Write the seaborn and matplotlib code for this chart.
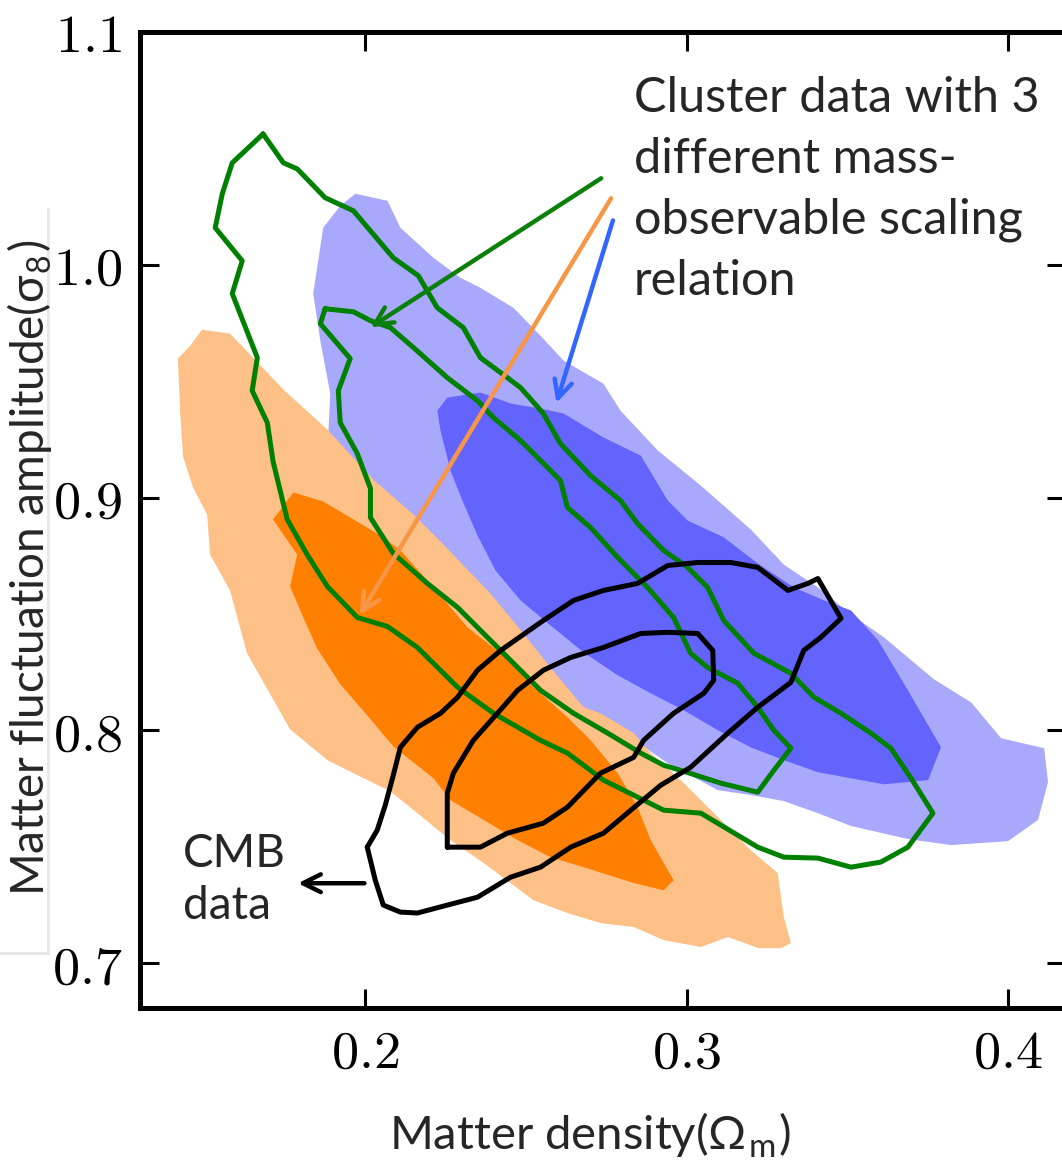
import numpy as np
import matplotlib
matplotlib.use('Agg')
import matplotlib.pyplot as plt
import seaborn as sns
from matplotlib.patches import Rectangle

# Contour outlines, in data units (Omega_m, sigma_8)
blue_outer_x = [0.1969, 0.2069, 0.2109, 0.2212, 0.2296, 0.2358, 0.2461, 0.2545, 0.2617, 0.2741, 0.2794, 0.2910,
                0.3044, 0.3199, 0.3302, 0.3408, 0.3511, 0.3614, 0.3769, 0.3885, 0.3978, 0.4112, 0.4124, 0.4093,
                0.4000, 0.3822, 0.3688, 0.3511, 0.3408, 0.3302, 0.3199, 0.3097, 0.2941, 0.2804, 0.2679, 0.2576,
                0.2421, 0.2265, 0.2109, 0.1938, 0.1885, 0.1891, 0.1860, 0.1838, 0.1869, 0.1922]
blue_outer_y = [1.0305, 1.0275, 1.0159, 1.0030, 0.9944, 0.9901, 0.9815, 0.9695, 0.9588, 0.9489, 0.9373, 0.9202,
                0.9051, 0.8863, 0.8712, 0.8614, 0.8498, 0.8399, 0.8219, 0.8120, 0.7966, 0.7923, 0.7777, 0.7615,
                0.7524, 0.7507, 0.7533, 0.7589, 0.7644, 0.7696, 0.7722, 0.7743, 0.7859, 0.7988, 0.8099, 0.8215,
                0.8387, 0.8601, 0.8859, 0.9116, 0.9275, 0.9446, 0.9674, 0.9876, 1.0159, 1.0253]

blue_inner_x = [0.2255, 0.2358, 0.2452, 0.2545, 0.2617, 0.2741, 0.2857, 0.2941, 0.3003, 0.3115, 0.3221, 0.3333,
                0.3427, 0.3511, 0.3595, 0.3688, 0.3791, 0.3751, 0.3614, 0.3511, 0.3408, 0.3302, 0.3199, 0.3097,
                0.2991, 0.2888, 0.2785, 0.2679, 0.2576, 0.2483, 0.2405, 0.2349, 0.2302, 0.2265, 0.2234, 0.2224]
blue_inner_y = [0.9429, 0.9451, 0.9404, 0.9382, 0.9361, 0.9258, 0.9180, 0.8987, 0.8901, 0.8829, 0.8717, 0.8614,
                0.8558, 0.8515, 0.8387, 0.8172, 0.7927, 0.7786, 0.7768, 0.7794, 0.7820, 0.7872, 0.7927, 0.8000,
                0.8086, 0.8159, 0.8237, 0.8335, 0.8451, 0.8558, 0.8687, 0.8837, 0.8987, 0.9116, 0.9288, 0.9373]

orange_outer_x = [0.1455, 0.1492, 0.1579, 0.1642, 0.1745, 0.1882, 0.2025, 0.2150, 0.2234, 0.2389, 0.2492, 0.2576,
                  0.2679, 0.2732, 0.2835, 0.2888, 0.2991, 0.3097, 0.3199, 0.3283, 0.3302, 0.3324, 0.3293, 0.3224,
                  0.3128, 0.3044, 0.2928, 0.2835, 0.2732, 0.2629, 0.2523, 0.2452, 0.2368, 0.2265, 0.2162, 0.2078,
                  0.1963, 0.1882, 0.1766, 0.1632, 0.1579, 0.1517, 0.1508, 0.1464, 0.1433, 0.1424, 0.1417]
orange_outer_y = [0.9652, 0.9721, 0.9704, 0.9614, 0.9464, 0.9292, 0.9077, 0.8927, 0.8811, 0.8588, 0.8416, 0.8270,
                  0.8099, 0.8073, 0.7988, 0.7902, 0.7773, 0.7627, 0.7485, 0.7387, 0.7198, 0.7086, 0.7064, 0.7064,
                  0.7112, 0.7069, 0.7099, 0.7155, 0.7172, 0.7215, 0.7270, 0.7344, 0.7430, 0.7528, 0.7644, 0.7738,
                  0.7816, 0.7872, 0.8004, 0.8331, 0.8601, 0.8755, 0.8927, 0.9043, 0.9176, 0.9365, 0.9597]

orange_inner_x = [0.1713, 0.1776, 0.1869, 0.1963, 0.2047, 0.2109, 0.2212, 0.2318, 0.2421, 0.2523, 0.2629, 0.2701,
                  0.2785, 0.2847, 0.2888, 0.2959, 0.2928, 0.2835, 0.2679, 0.2576, 0.2474, 0.2368, 0.2265, 0.2212,
                  0.2087, 0.2006, 0.1922, 0.1850, 0.1807, 0.1766, 0.1788]
orange_inner_y = [0.8906, 0.9022, 0.8983, 0.8906, 0.8837, 0.8773, 0.8614, 0.8442, 0.8331, 0.8185, 0.8056, 0.7957,
                  0.7816, 0.7670, 0.7528, 0.7356, 0.7313, 0.7344, 0.7412, 0.7455, 0.7528, 0.7615, 0.7700, 0.7794,
                  0.7931, 0.8064, 0.8198, 0.8352, 0.8485, 0.8618, 0.8755]

green_outer_x = [0.1682, 0.1745, 0.1788, 0.1875, 0.1963, 0.2087, 0.2165, 0.2224, 0.2305, 0.2358, 0.2442, 0.2483,
                 0.2554, 0.2607, 0.2701, 0.2794, 0.2847, 0.2928, 0.3003, 0.3065, 0.3115, 0.3209, 0.3324, 0.3396,
                 0.3480, 0.3573, 0.3635, 0.3698, 0.3766, 0.3688, 0.3604, 0.3511, 0.3408, 0.3302, 0.3221, 0.3044,
                 0.2928, 0.2847, 0.2741, 0.2629, 0.2545, 0.2399, 0.2287, 0.2162, 0.2069, 0.1975, 0.1882, 0.1819,
                 0.1757, 0.1713, 0.1695, 0.1648, 0.1664, 0.1586, 0.1617, 0.1533, 0.1555, 0.1586]
green_outer_y = [1.0562, 1.0438, 1.0412, 1.0288, 1.0232, 1.0030, 0.9953, 0.9815, 0.9730, 0.9601, 0.9515, 0.9472,
                 0.9361, 0.9232, 0.9094, 0.8987, 0.8888, 0.8773, 0.8700, 0.8614, 0.8472, 0.8331, 0.8245, 0.8142,
                 0.8073, 0.7988, 0.7923, 0.7794, 0.7644, 0.7498, 0.7434, 0.7412, 0.7451, 0.7455, 0.7498, 0.7644,
                 0.7657, 0.7713, 0.7786, 0.7902, 0.7957, 0.8073, 0.8185, 0.8356, 0.8446, 0.8485, 0.8618, 0.8755,
                 0.8906, 0.9155, 0.9322, 0.9459, 0.9601, 0.9876, 1.0017, 1.0159, 1.0305, 1.0438]

green_inner_x = [0.1875, 0.1963, 0.2016, 0.2078, 0.2150, 0.2255, 0.2349, 0.2399, 0.2483, 0.2567, 0.2607, 0.2629,
                 0.2701, 0.2785, 0.2878, 0.2959, 0.3012, 0.3065, 0.3159, 0.3221, 0.3271, 0.3324, 0.3271, 0.3221,
                 0.3106, 0.2981, 0.2928, 0.2857, 0.2754, 0.2648, 0.2545, 0.2474, 0.2389, 0.2287, 0.2193, 0.2087,
                 0.2016, 0.2016, 0.1975, 0.1922, 0.1916, 0.1953, 0.1860]
green_inner_y = [0.9811, 0.9798, 0.9760, 0.9730, 0.9644, 0.9515, 0.9416, 0.9343, 0.9245, 0.9129, 0.9073, 0.8957,
                 0.8871, 0.8743, 0.8614, 0.8485, 0.8331, 0.8270, 0.8202, 0.8099, 0.8000, 0.7923, 0.7828, 0.7734,
                 0.7773, 0.7828, 0.7850, 0.7902, 0.7988, 0.8073, 0.8172, 0.8270, 0.8387, 0.8528, 0.8631, 0.8760,
                 0.8914, 0.9039, 0.9189, 0.9322, 0.9459, 0.9597, 0.9747]

cmb_outer_x = [0.2006, 0.2031, 0.2056, 0.2109, 0.2162, 0.2255, 0.2349, 0.2452, 0.2545, 0.2639, 0.2741, 0.2826,
               0.2919, 0.3012, 0.3128, 0.3221, 0.3324, 0.3364, 0.3417, 0.3480, 0.3408, 0.3377, 0.3315, 0.3221,
               0.3137, 0.3034, 0.2941, 0.2847, 0.2741, 0.2648, 0.2554, 0.2421, 0.2349, 0.2287, 0.2234, 0.2162,
               0.2109, 0.2087, 0.2062, 0.2037]
cmb_outer_y = [0.7498, 0.7356, 0.7249, 0.7219, 0.7215, 0.7249, 0.7283, 0.7369, 0.7412, 0.7498, 0.7558, 0.7657,
               0.7764, 0.7841, 0.7988, 0.8099, 0.8206, 0.8343, 0.8399, 0.8481, 0.8652, 0.8631, 0.8601, 0.8700,
               0.8721, 0.8721, 0.8708, 0.8631, 0.8601, 0.8558, 0.8472, 0.8343, 0.8258, 0.8142, 0.8073, 0.8013,
               0.7927, 0.7807, 0.7678, 0.7571]

cmb_inner_x = [0.2255, 0.2358, 0.2442, 0.2554, 0.2629, 0.2732, 0.2835, 0.2866, 0.2959, 0.3053, 0.3084, 0.3081,
               0.3034, 0.2941, 0.2857, 0.2741, 0.2639, 0.2554, 0.2474, 0.2411, 0.2336, 0.2274, 0.2255, 0.2255]
cmb_inner_y = [0.7498, 0.7498, 0.7558, 0.7601, 0.7670, 0.7816, 0.7884, 0.7957, 0.8073, 0.8159, 0.8215, 0.8343,
               0.8416, 0.8421, 0.8416, 0.8356, 0.8313, 0.8258, 0.8172, 0.8073, 0.7957, 0.7816, 0.7730, 0.7615]

x_ticks = [0.2, 0.3, 0.4]
y_ticks = [0.7, 0.8, 0.9, 1.0, 1.1]

sns.set_theme(style='white')
plt.rcParams['mathtext.fontset'] = 'cm'
plt.rcParams['font.family'] = ['Lato', 'DejaVu Sans']

fig = plt.figure(figsize=(10.62, 11.62), dpi=100)
ax = fig.add_axes([140 / 1062, 154 / 1162, 926 / 1062, 976 / 1162])


def closed(xs, ys):
    return np.append(xs, xs[0]), np.append(ys, ys[0])


# filled cluster contours (blue under orange)
ax.fill(*closed(blue_outer_x, blue_outer_y), color='#a8a8fc', lw=0, zorder=1)
ax.fill(*closed(blue_inner_x, blue_inner_y), color='#6363fd', lw=0, zorder=1.1)
ax.fill(*closed(orange_outer_x, orange_outer_y), color='#fdc086', lw=0, zorder=1.2)
ax.fill(*closed(orange_inner_x, orange_inner_y), color='#ff8000', lw=0, zorder=1.3)

# line contours
for xs, ys, c in [(green_outer_x, green_outer_y, '#008000'), (green_inner_x, green_inner_y, '#008000'),
                  (cmb_outer_x, cmb_outer_y, 'black'), (cmb_inner_x, cmb_inner_y, 'black')]:
    cx, cy = closed(xs, ys)
    sns.lineplot(x=cx, y=cy, sort=False, estimator=None, color=c, lw=3.6, ax=ax, zorder=2)

ax.set_xlim(0.1299, 0.418)
ax.set_ylim(0.6807, 1.0996)
ax.set_xticks(x_ticks, labels=[f'${t:.1f}$' for t in x_ticks])
ax.set_yticks(y_ticks, labels=[f'${t:.1f}$' for t in y_ticks])
ax.tick_params(direction='in', length=14, width=2.2, left=True, bottom=True, top=True, right=True,
               labelsize=39, colors='black')
ax.tick_params(axis='x', pad=14)
ax.tick_params(axis='y', pad=13)
for sp in ax.spines.values():
    sp.set_linewidth(3.6)
    sp.set_color('black')
    sp.set_visible(True)

# annotations
ax.text(0.2835, 1.0811, 'Cluster data with 3\ndifferent mass-\nobservable scaling\nrelation',
        fontsize=35, va='top', ha='left', linespacing=1.47, zorder=5)
ax.annotate('', xy=(0.2009, 0.9725), xytext=(0.2741, 1.0378),
            arrowprops=dict(arrowstyle='->', color='#0a800a', lw=3.2, mutation_scale=32), zorder=4)
ax.annotate('', xy=(0.1978, 0.8485), xytext=(0.2769, 1.0296),
            arrowprops=dict(arrowstyle='->', color='#f79646', lw=3.2, mutation_scale=32), zorder=4)
ax.annotate('', xy=(0.2592, 0.9395), xytext=(0.2773, 1.0202),
            arrowprops=dict(arrowstyle='->', color='#3366ff', lw=3.2, mutation_scale=32), zorder=4)
ax.text(0.1433, 0.7560, 'CMB\ndata', fontsize=33, va='top', ha='left', linespacing=1.3, zorder=5)
ax.annotate('', xy=(0.1782, 0.7343), xytext=(0.2006, 0.7343),
            arrowprops=dict(arrowstyle='->', color='black', lw=3.2, mutation_scale=32), zorder=4)

ax.set_xlabel('Matter density(Ω$_\\mathregular{m}$)', fontsize=34)
ax.xaxis.set_label_coords(0.486, -0.106)

# white text box holding the y label
fig.patches.append(Rectangle((0, 1 - 955 / 1162), 50 / 1062, 747 / 1162, transform=fig.transFigure,
                             facecolor='#e8e8e8', edgecolor='none', zorder=1))
fig.patches.append(Rectangle((0, 1 - 952 / 1162), 47 / 1062, 744 / 1162, transform=fig.transFigure,
                             facecolor='white', edgecolor='none', zorder=1.1))
fig.text(30 / 1062, 1 - 568 / 1162, 'Matter fluctuation amplitude(σ$_\\mathregular{8}$)', fontsize=33,
         rotation=90, ha='center', va='center', zorder=3)

fig.savefig('out.png', dpi=100)
